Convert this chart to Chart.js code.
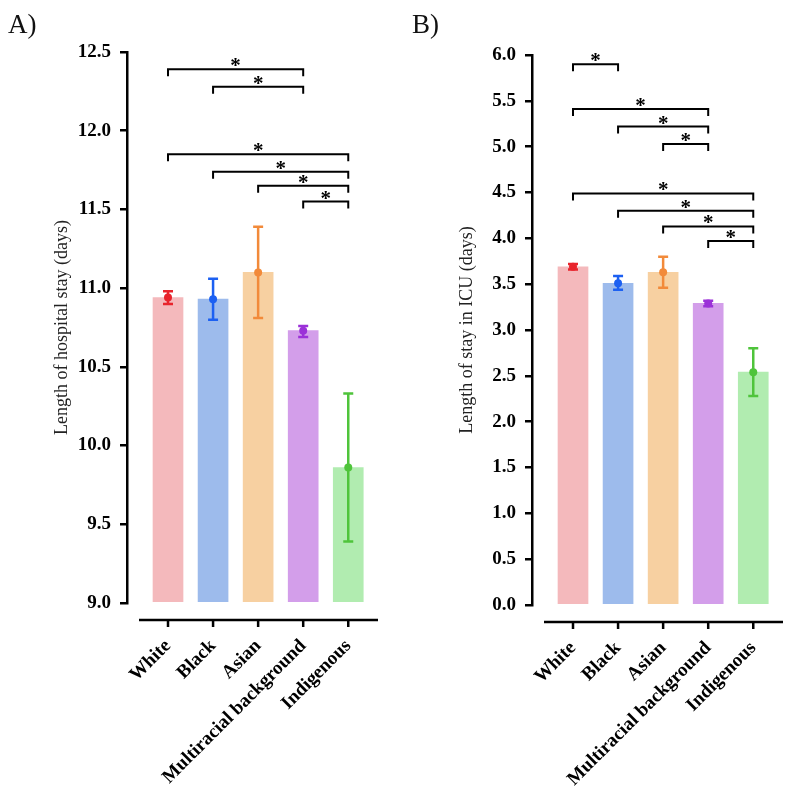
<!DOCTYPE html>
<html><head><meta charset="utf-8">
<script src="https://cdn.jsdelivr.net/npm/chart.js@4.4.1/dist/chart.umd.min.js"></script>
<style>
html,body{margin:0;padding:0;background:#fff;}
#wrap{position:relative;width:791px;height:800px;overflow:hidden;}
canvas.panel{position:absolute;top:0;}
.lab{position:absolute;top:7px;font-family:'Liberation Serif','Times New Roman',serif;font-size:27px;line-height:34px;color:#111;}
</style></head><body>
<div id="wrap">
<canvas id="cA" class="panel" width="395" height="800" style="left:0"></canvas>
<canvas id="cB" class="panel" width="396" height="800" style="left:395px"></canvas>
<div class="lab" style="left:8px">A)</div>
<div class="lab" style="left:412px">B)</div>
</div>
<script>
// ---------- data ----------
const categories = ['White', 'Black', 'Asian', 'Multiracial background', 'Indigenous'];

const hospitalMean = [10.94, 10.93, 11.10, 10.73, 9.86];
const hospitalLow  = [10.90, 10.80, 10.81, 10.69, 9.39];
const hospitalHigh = [10.98, 11.06, 11.39, 10.76, 10.33];
const hospitalTicks = [9.0, 9.5, 10.0, 10.5, 11.0, 11.5, 12.0, 12.5];
const hospitalSigPairs  = [[0, 3], [1, 3], [0, 4], [1, 4], [2, 4], [3, 4]];
const hospitalSigLevels = [12.39, 12.28, 11.85, 11.74, 11.65, 11.55];

const icuMean = [3.69, 3.51, 3.63, 3.29, 2.54];
const icuLow  = [3.66, 3.44, 3.46, 3.26, 2.28];
const icuHigh = [3.72, 3.59, 3.80, 3.32, 2.80];
const icuTicks = [0.0, 0.5, 1.0, 1.5, 2.0, 2.5, 3.0, 3.5, 4.0, 4.5, 5.0, 5.5, 6.0];
const icuSigPairs  = [[0, 1], [0, 3], [1, 3], [2, 3], [0, 4], [1, 4], [2, 4], [3, 4]];
const icuSigLevels = [5.90, 5.41, 5.22, 5.03, 4.49, 4.30, 4.13, 3.97];

// ---------- style ----------
const barColors = ['#f4b9bc', '#9dbbec', '#f7d0a1', '#d39eea', '#b1ecb0'];
const errColors = ['#e8242c', '#1c60f2', '#f28a3a', '#9b31d8', '#4fc43b'];
const SERIF = "'Liberation Serif','Times New Roman',serif";

function makeChart(canvasId, cfg) {
  const {mean, low, high, ticks, sigPairs, sigLevels, title, yWidth, titlePad, padTop, padRight, xHeight} = cfg;

  const decoPlugin = {
    id: 'deco_' + canvasId,
    afterDatasetsDraw(chart) {
      const ctx = chart.ctx, xs = chart.scales.x, ys = chart.scales.y, area = chart.chartArea;
      ctx.save();
      // error bars
      ctx.lineCap = 'butt';
      categories.forEach((c, i) => {
        const x = xs.getPixelForValue(i);
        const yl = ys.getPixelForValue(low[i]);
        const yh = ys.getPixelForValue(high[i]);
        ctx.strokeStyle = errColors[i];
        ctx.lineWidth = 2.5;
        ctx.beginPath();
        ctx.moveTo(x, yl); ctx.lineTo(x, yh);
        ctx.moveTo(x - 5, yl); ctx.lineTo(x + 5, yl);
        ctx.moveTo(x - 5, yh); ctx.lineTo(x + 5, yh);
        ctx.stroke();
      });
      // significance brackets
      ctx.strokeStyle = '#000';
      ctx.fillStyle = '#000';
      ctx.lineWidth = 2;
      ctx.font = 'bold 21px ' + SERIF;
      ctx.textAlign = 'center';
      ctx.textBaseline = 'alphabetic';
      sigPairs.forEach((p, k) => {
        const x1 = xs.getPixelForValue(p[0]);
        const x2 = xs.getPixelForValue(p[1]);
        const y = ys.getPixelForValue(sigLevels[k]);
        ctx.beginPath();
        ctx.moveTo(x1, y + 7); ctx.lineTo(x1, y); ctx.lineTo(x2, y); ctx.lineTo(x2, y + 7);
        ctx.stroke();
        ctx.fillText('*', (x1 + x2) / 2, y + 3);
      });
      // detached x axis line with ticks
      const ay = area.bottom + 17;
      ctx.lineWidth = 2.5;
      ctx.beginPath();
      ctx.moveTo(area.left + 12, ay); ctx.lineTo(area.right, ay);
      categories.forEach((c, i) => {
        const x = xs.getPixelForValue(i);
        ctx.moveTo(x, ay); ctx.lineTo(x, ay + 7);
      });
      ctx.stroke();
      ctx.restore();
    }
  };

  return new Chart(document.getElementById(canvasId), {
    data: {
      datasets: [
        {
          type: 'line',
          data: categories.map((c, i) => ({x: i, y: mean[i]})),
          showLine: false,
          pointRadius: 4,
          pointBorderWidth: 0,
          pointBackgroundColor: errColors,
          order: 0
        },
        {
          type: 'bar',
          data: categories.map((c, i) => ({x: i, y: mean[i]})),
          backgroundColor: barColors,
          borderWidth: 0,
          barThickness: 30,
          base: ticks[0],
          order: 1
        }
      ]
    },
    options: {
      responsive: false,
      animation: false,
      layout: {padding: {top: padTop, right: padRight, left: 0, bottom: 0}},
      plugins: {legend: {display: false}, tooltip: {enabled: false}},
      scales: {
        x: {
          type: 'linear',
          offset: false,
          min: -0.91,
          max: 4.66,
          afterBuildTicks: (s) => { s.ticks = categories.map((c, i) => ({value: i})); },
          afterFit: (s) => { s.height = xHeight; s.paddingLeft = 0; s.paddingRight = 0; },
          grid: {display: false, drawTicks: false},
          border: {display: false},
          ticks: {
            autoSkip: false,
            maxRotation: 45,
            minRotation: 45,
            padding: 32,
            color: '#000',
            font: {family: SERIF, size: 19, weight: 'bold'},
            callback: (v) => categories[v]
          }
        },
        y: {
          type: 'linear',
          min: ticks[0],
          max: ticks[ticks.length - 1],
          afterBuildTicks: (s) => { s.ticks = ticks.map(v => ({value: v})); },
          afterFit: (s) => { s.width = yWidth; s.paddingTop = 0; s.paddingBottom = 0; },
          border: {display: true, color: '#000', width: 2.5},
          grid: {display: true, drawOnChartArea: false, drawTicks: true, tickLength: 7, color: '#000', lineWidth: 2.5},
          ticks: {
            padding: 9,
            color: '#000',
            font: {family: SERIF, size: 19, weight: 'bold'},
            callback: (v) => Number(v).toFixed(1)
          },
          title: {
            display: true,
            text: title,
            color: '#222',
            font: {family: SERIF, size: 18, weight: 'normal'},
            padding: {top: titlePad, bottom: 0}
          }
        }
      }
    },
    plugins: [decoPlugin]
  });
}

makeChart('cA', {
  mean: hospitalMean, low: hospitalLow, high: hospitalHigh, ticks: hospitalTicks,
  sigPairs: hospitalSigPairs, sigLevels: hospitalSigLevels,
  title: 'Length of hospital stay (days)',
  yWidth: 127, titlePad: 51, padTop: 52, padRight: 17, xHeight: 197
});
makeChart('cB', {
  mean: icuMean, low: icuLow, high: icuHigh, ticks: icuTicks,
  sigPairs: icuSigPairs, sigLevels: icuSigLevels,
  title: 'Length of stay in ICU (days)',
  yWidth: 137, titlePad: 61, padTop: 55, padRight: 8, xHeight: 195
});
</script>
</body></html>
